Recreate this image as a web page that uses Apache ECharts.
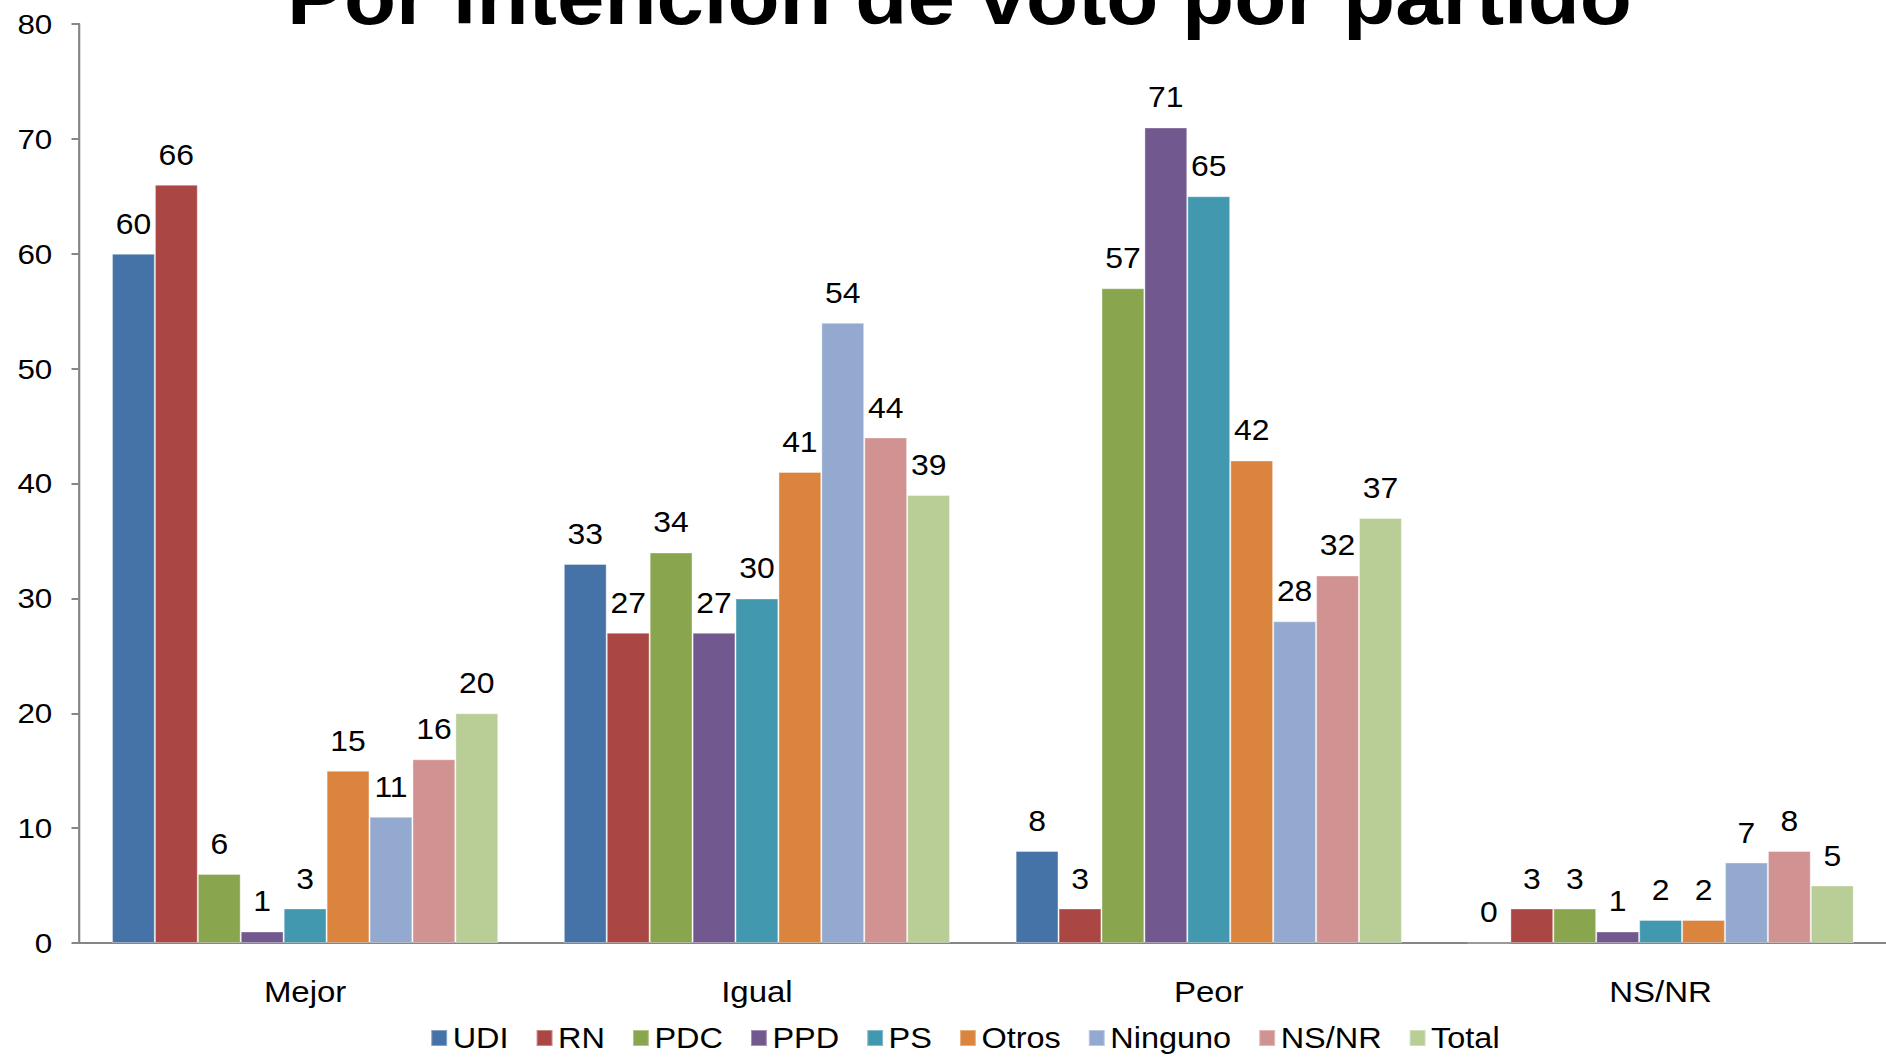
<!DOCTYPE html>
<html>
<head>
<meta charset="utf-8">
<script src="https://cdn.jsdelivr.net/npm/echarts@6/dist/echarts.min.js"></script>
<style>
html, body { margin: 0; padding: 0; background: #fff; overflow: hidden; }
/* the reference text is a bit wider than plain Arial, so the chart is
   drawn narrower and stretched back to full width */
#chart { width: 1714.5px; height: 1057px; transform: scaleX(1.1); transform-origin: 0 0; }
</style>
</head>
<body>
<div id="chart"></div>
<script>
// categories and series
const categories = ['Mejor', 'Igual', 'Peor', 'NS/NR'];
const partidos = ['UDI', 'RN', 'PDC', 'PPD', 'PS', 'Otros', 'Ninguno', 'NS/NR', 'Total'];
const udi = [60, 33, 8, 0];
const rn = [66, 27, 3, 3];
const pdc = [6, 34, 57, 3];
const ppd = [1, 27, 71, 1];
const ps = [3, 30, 65, 2];
const otros = [15, 41, 42, 2];
const ninguno = [11, 54, 28, 7];
const nsnr = [16, 44, 32, 8];
const total = [20, 39, 37, 5];
const colores = ['#4572A7', '#AA4643', '#89A54E', '#71588F', '#4198AF', '#DB843D', '#93A9CF', '#D19392', '#B9CD96'];

const valores = [udi, rn, pdc, ppd, ps, otros, ninguno, nsnr, total];
const font = '"Liberation Sans", Arial, sans-serif';

var chart = echarts.init(document.getElementById('chart'), null, { renderer: 'svg' });

var series = partidos.map(function (nombre, i) {
    return {
        name: nombre,
        type: 'bar',
        data: valores[i],
        barGap: 0,
        barCategoryGap: '14.5%',
        itemStyle: { color: colores[i], borderColor: 'rgba(255,255,255,0.35)', borderWidth: 1 },
        label: {
            show: true,
            position: 'top',
            distance: 16,
            color: '#000',
            fontSize: 29,
            fontFamily: font
        }
    };
});

var option = {
    animation: false,
    backgroundColor: '#fff',
    title: {
        text: 'Por intención de voto por partido',
        left: 256,
        top: -47,
        textStyle: { fontSize: 77.5, fontWeight: 'bold', color: '#000', fontFamily: font }
    },
    legend: {
        data: partidos,
        left: 386,
        top: 1018,
        icon: 'rect',
        itemWidth: 14.5,
        itemHeight: 16,
        itemGap: 24.5,
        textStyle: { fontSize: 29.5, color: '#000', fontFamily: font }
    },
    grid: { left: 72, right: 0, top: 24, bottom: 114, containLabel: false },
    xAxis: {
        type: 'category',
        data: categories,
        axisLine: { lineStyle: { color: '#868686', width: 2 } },
        axisTick: { length: 9, lineStyle: { color: '#868686', width: 2 } },
        axisLabel: { fontSize: 30, color: '#000', fontFamily: font, margin: 34 }
    },
    yAxis: {
        type: 'value',
        min: 0,
        max: 80,
        interval: 10,
        splitLine: { show: false },
        axisLine: { show: true, lineStyle: { color: '#868686', width: 2 } },
        axisTick: { show: true, length: 7, lineStyle: { color: '#868686', width: 2 } },
        axisLabel: { fontSize: 28.5, color: '#000', fontFamily: font, margin: 24.5 }
    },
    series: series
};

chart.setOption(option);
</script>
</body>
</html>
